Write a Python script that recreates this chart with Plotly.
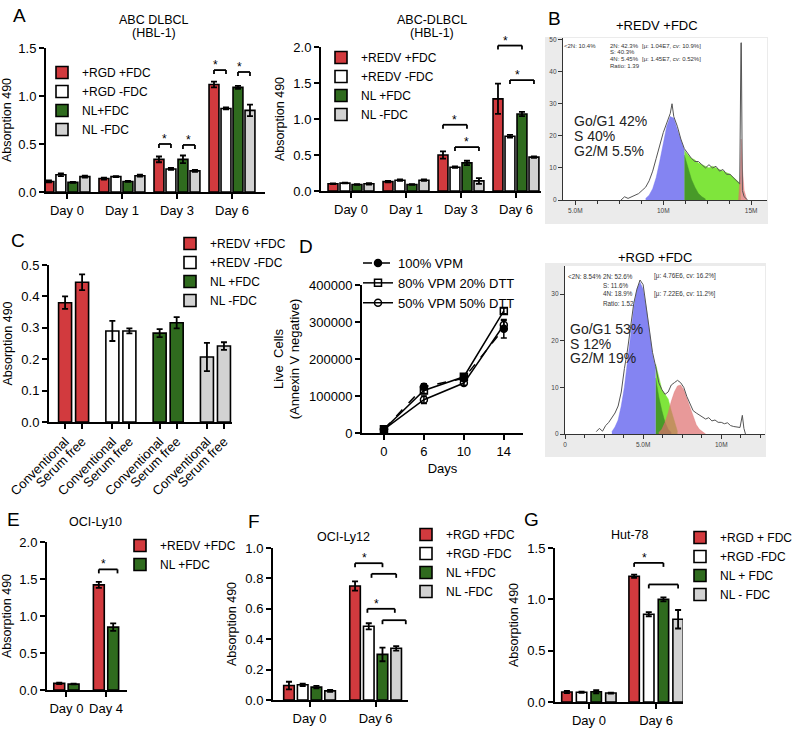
import plotly.graph_objects as go

W, H = 800, 729
FONT = "Arial, Liberation Sans, Helvetica, sans-serif"
RED, WHITE, GREEN, GRAY = "#d23a3e", "#ffffff", "#2f6b1e", "#d2d2d2"
COLORS4 = [RED, WHITE, GREEN, GRAY]

# ---------------- data ----------------
# A (left) ABC DLBCL (HBL-1)
a1_days = ["Day 0", "Day 1", "Day 3", "Day 6"]
a1_names = ["+RGD +FDC", "+RGD -FDC", "NL+FDC", "NL -FDC"]
a1_rgd_fdc = [0.11, 0.14, 0.34, 1.12]
a1_rgd_nofdc = [0.18, 0.16, 0.24, 0.87]
a1_nl_fdc = [0.10, 0.11, 0.34, 1.09]
a1_nl_nofdc = [0.16, 0.17, 0.22, 0.85]
a1_err = [[0.01, 0.01, 0.03, 0.03], [0.015, 0.005, 0.01, 0.01],
          [0.005, 0.005, 0.04, 0.015], [0.01, 0.01, 0.01, 0.06]]

# A (right) ABC-DLBCL (HBL-1)
a2_days = ["Day 0", "Day 1", "Day 3", "Day 6"]
a2_names = ["+REDV +FDC", "+REDV -FDC", "NL +FDC", "NL -FDC"]
a2_redv_fdc = [0.10, 0.13, 0.50, 1.28]
a2_redv_nofdc = [0.11, 0.15, 0.33, 0.76]
a2_nl_fdc = [0.09, 0.09, 0.39, 1.07]
a2_nl_nofdc = [0.10, 0.15, 0.14, 0.47]
a2_err = [[0.005, 0.01, 0.05, 0.21], [0.005, 0.01, 0.01, 0.02],
          [0.005, 0.005, 0.03, 0.03], [0.01, 0.01, 0.04, 0.01]]

# C media comparison
c_groups = ["+REDV +FDC", "+REDV -FDC", "NL +FDC", "NL -FDC"]
c_media = ["Conventional", "Serum free"]
c_vals = [[0.38, 0.445], [0.29, 0.29], [0.283, 0.316], [0.207, 0.242]]
c_errs = [[0.02, 0.025], [0.032, 0.008], [0.013, 0.018], [0.045, 0.012]]

# D live cells
d_days = ["0", "6", "10", "14"]
d_names = ["100% VPM", "80% VPM 20% DTT", "50% VPM 50% DTT"]
d_vpm100 = [10000, 125000, 148000, 282000]
d_vpm80 = [10000, 115000, 152000, 330000]
d_vpm50 = [10000, 90000, 135000, 292000]
d_errs = [[3000, 8000, 5000, 25000], [3000, 8000, 6000, 8000], [3000, 10000, 6000, 12000]]

# E OCI-Ly10
e_days = ["Day 0", "Day 4"]
e_names = ["+REDV +FDC", "NL +FDC"]
e_vals = [[0.09, 1.42], [0.08, 0.85]]
e_errs = [[0.01, 0.04], [0.005, 0.05]]

# F OCI-Ly12
f_days = ["Day 0", "Day 6"]
f_names = ["+RGD +FDC", "+RGD -FDC", "NL +FDC", "NL -FDC"]
f_vals = [[0.095, 0.75], [0.10, 0.485], [0.085, 0.30], [0.06, 0.34]]
f_errs = [[0.025, 0.03], [0.008, 0.02], [0.008, 0.045], [0.006, 0.015]]

# G Hut-78
g_days = ["Day 0", "Day 6"]
g_names = ["+RGD + FDC", "+RGD -FDC", "NL + FDC", "NL - FDC"]
g_vals = [[0.097, 1.225], [0.095, 0.855], [0.10, 1.00], [0.087, 0.806]]
g_errs = [[0.01, 0.015], [0.005, 0.02], [0.015, 0.02], [0.004, 0.09]]

# B (top) cell-cycle histogram +REDV +FDC (x in millions)
b1_raw_x = [7.6, 7.8, 8.0, 8.2, 8.4, 8.6, 8.8, 9.0, 9.2, 9.4, 9.6, 9.8, 10.0, 10.2, 10.4,
            10.5, 10.6, 10.8, 11.0, 11.2, 11.4, 11.6, 11.8, 12.0, 12.2, 12.4, 12.6, 12.8,
            13.0, 13.2, 13.4, 13.6, 13.8, 14.0, 14.2, 14.35, 14.42, 14.44, 14.5, 14.6, 14.8]
b1_raw_y = [0, 1, 0.5, 1, 1.5, 2, 3, 4, 6, 9, 13, 17, 21, 24, 27,
            30, 26, 23, 19, 16, 14.5, 13, 12, 12, 11, 10, 11, 10,
            10.5, 9, 9.5, 8, 8, 7, 6, 5, 49, 49, 3, 1, 0]
b1_g1_x = [9.0, 9.2, 9.4, 9.6, 9.8, 10.0, 10.2, 10.4, 10.6, 10.8, 11.0, 11.2]
b1_g1_y = [0.5, 1.5, 3.5, 7, 12, 18, 23, 26, 25.5, 22, 18.5, 15.5]
b1_s_x = [11.2, 11.4, 11.6, 11.8, 12.0, 12.2, 12.4, 12.6, 12.8, 13.0, 13.2, 13.4, 13.6, 13.8, 14.0, 14.2, 14.4]
b1_s_y = [15.5, 14, 13, 12.5, 11.5, 11, 10.5, 10, 10.5, 10, 9.5, 9, 8.5, 8, 7, 6, 5]
b1_ov_x = [11.2, 11.4, 11.6, 11.8, 12.0, 12.2, 12.4]
b1_ov_y = [14, 10, 6.5, 4, 2, 1, 0.3]
b1_g2_x = [14.28, 14.38, 14.43, 14.5, 14.6, 14.75]
b1_g2_y = [0, 8, 19, 10, 3, 0]

# B (bottom) cell-cycle histogram +RGD +FDC
b2_raw_x = [2.0, 2.2, 2.4, 2.6, 2.8, 3.0, 3.2, 3.4, 3.6, 3.8, 4.0, 4.2, 4.4, 4.6, 4.8, 5.0,
            5.2, 5.4, 5.6, 5.8, 6.0, 6.2, 6.4, 6.6, 6.8, 7.0, 7.2, 7.4, 7.6, 7.8, 8.0, 8.2,
            8.4, 8.6, 8.8, 9.0, 9.2, 9.4, 9.6, 9.8, 10.0, 10.2, 10.4, 10.6, 10.8, 11.0,
            11.2, 11.35, 11.45, 11.55]
b2_raw_y = [0.5, 1.2, 0.6, 1.8, 2.5, 3.5, 4.5, 6, 9, 14, 18, 23, 28, 31, 33, 32,
            27, 22, 17.5, 14.5, 11, 9.5, 8.5, 9, 10.5, 11, 11.5, 11, 10, 8, 6.5, 5,
            4.5, 4, 3.5, 3.2, 3.5, 2.8, 3, 2.5, 2.5, 2.2, 2.4, 1.8, 1.6, 1.5,
            1.4, 4, 1.2, 0]
b2_g1_x = [3.0, 3.2, 3.4, 3.6, 3.8, 4.0, 4.2, 4.4, 4.6, 4.8, 5.0, 5.2, 5.4, 5.6, 5.8]
b2_g1_y = [0.5, 1.5, 3, 6, 10, 15, 21, 27, 31, 32.5, 31, 27, 22, 17, 14]
b2_s_x = [5.8, 6.0, 6.2, 6.4, 6.6, 6.8, 7.0, 7.2]
b2_s_y = [15, 12, 9.5, 8.5, 7.5, 5, 2.5, 0.5]
b2_ov_x = [5.8, 6.0, 6.2, 6.4, 6.6, 6.8]
b2_ov_y = [12, 8, 5, 2.5, 1, 0.3]
b2_g2_x = [6.0, 6.2, 6.4, 6.6, 6.8, 7.0, 7.2, 7.4, 7.6, 7.8, 8.0, 8.2, 8.4, 8.6, 8.8, 9.0]
b2_g2_y = [0.3, 1, 2.5, 4.5, 7, 9, 10.3, 10.5, 9.5, 7.5, 5.5, 3.5, 2, 1, 0.4, 0]

b1_stats = ["&lt;2N: 10.4%", "2N: 42.3%", "[μ: 1.04E7, cv: 10.9%]", "S: 40.3%",
            "4N: 5.45%", "[μ: 1.45E7, cv: 0.52%]", "Ratio: 1.39"]
b2_stats = ["&lt;2N: 8.54%", "2N: 52.6%", "[μ: 4.76E6, cv: 16.2%]", "S: 11.6%",
            "4N: 18.9%", "[μ: 7.22E6, cv: 11.2%]", "Ratio: 1.52"]
b1_phases = ["Go/G1 42%", "S 40%", "G2/M 5.5%"]
b2_phases = ["Go/G1 53%", "S 12%", "G2/M 19%"]

# ---------------- helpers ----------------
fig = go.Figure()
lay = {}
shapes = []
annotations = []


def px2x(px):
    return px / W


def px2y(py):
    return 1 - py / H


def names_of(i):
    s = "" if i == 1 else str(i)
    return "x" + s, "y" + s, "xaxis" + s, "yaxis" + s


def ax_common(size=13):
    return dict(showline=True, linecolor="black", linewidth=2, ticks="outside", ticklen=5,
                tickwidth=1.5, tickcolor="black", showgrid=False, zeroline=False,
                automargin=False,
                tickfont=dict(family=FONT, size=size, color="black"))


def bar_axes(i, xpx, ypx, xrange, yrange, tickvals, ticktext, dtick, tickangle=0):
    xr, yr, xk, yk = names_of(i)
    lay[xk] = dict(ax_common(), domain=[px2x(xpx[0]), px2x(xpx[1])], range=xrange, anchor=yr,
                   tickmode="array", tickvals=tickvals, ticktext=ticktext, tickangle=tickangle)
    lay[yk] = dict(ax_common(), domain=[px2y(ypx[1]), px2y(ypx[0])], range=yrange, anchor=xr,
                   tick0=0, dtick=dtick, tickformat=".1f",
                   title=dict(text="Absorption 490", standoff=6,
                              font=dict(family=FONT, size=12.5, color="black")))


def bar_group(i, legend, names, vals, errs, colors, pitch, width):
    xr, yr, _, _ = names_of(i)
    n = len(names)
    xs = list(range(len(vals[0])))
    for k in range(n):
        fig.add_trace(go.Bar(
            x=xs, y=vals[k], name=names[k], width=width,
            offset=(k - n / 2) * pitch + (pitch - width) / 2,
            marker=dict(color=colors[k], line=dict(color="black", width=1.6)),
            error_y=dict(type="data", array=errs[k], color="black", thickness=1.8, width=3),
            xaxis=xr, yaxis=yr, legend=legend, hoverinfo="skip"))


def brackets(i, xrange, yrange, ypx, specs, pitch, n):
    xr, yr, _, _ = names_of(i)
    fd = 4.0 / (ypx[1] - ypx[0])

    def fx(v):
        return (v - xrange[0]) / (xrange[1] - xrange[0])

    for cat, i0, i1, yv, star in specs:
        x0 = fx(cat + (i0 - (n - 1) / 2) * pitch)
        x1 = fx(cat + (i1 - (n - 1) / 2) * pitch)
        fy = (yv - yrange[0]) / (yrange[1] - yrange[0])
        for a, b, c, d in [(x0, fy - fd, x0, fy), (x0, fy, x1, fy), (x1, fy, x1, fy - fd)]:
            shapes.append(dict(type="line", xref=xr + " domain", yref=yr + " domain",
                               x0=a, y0=b, x1=c, y1=d, line=dict(color="black", width=1.8)))
        if star:
            annotations.append(dict(xref=xr + " domain", yref=yr + " domain", x=(x0 + x1) / 2,
                                    y=fy, text="*", showarrow=False, yanchor="bottom", yshift=-4,
                                    font=dict(family=FONT, size=12, color="black")))


def legend_at(left, top, size=12):
    return dict(x=px2x(left), y=px2y(top), xanchor="left", yanchor="top",
                bgcolor="rgba(0,0,0,0)", borderwidth=0,
                font=dict(family=FONT, size=size, color="black"),
                itemwidth=30, tracegroupgap=0, traceorder="normal")


def text(t, x, y, size=12.5, anchor="center", color="black"):
    annotations.append(dict(xref="paper", yref="paper", x=px2x(x), y=px2y(y), text=t,
                            showarrow=False, xanchor=anchor, yanchor="middle",
                            font=dict(family=FONT, size=size, color=color)))


# ---------------- A left ----------------
A_PITCH, A_W = 0.218, 0.18
a1_vals = [a1_rgd_fdc, a1_rgd_nofdc, a1_nl_fdc, a1_nl_nofdc]
a1_xr, a1_yr, a1_ypx = [-0.38, 3.6], [0, 1.5], (48, 192)
bar_axes(1, (46, 265), a1_ypx, a1_xr, a1_yr, list(range(len(a1_days))), a1_days, 0.5)
bar_group(1, "legend", a1_names, a1_vals, a1_err, COLORS4, A_PITCH, A_W)
brackets(1, a1_xr, a1_yr, a1_ypx,
         [(2, 0, 1, 0.50, True), (2, 2, 3, 0.49, True), (3, 0, 1, 1.27, True), (3, 2, 3, 1.25, True)],
         A_PITCH, 4)
lay["legend"] = legend_at(42, 58)

# ---------------- A right ----------------
a2_vals = [a2_redv_fdc, a2_redv_nofdc, a2_nl_fdc, a2_nl_nofdc]
a2_xr, a2_yr, a2_ypx = [-0.545, 3.455], [0, 2], (47, 191)
bar_axes(2, (321, 541), a2_ypx, a2_xr, a2_yr, list(range(len(a2_days))), a2_days, 0.5)
bar_group(2, "legend2", a2_names, a2_vals, a2_err, COLORS4, A_PITCH, A_W)
brackets(2, a2_xr, a2_yr, a2_ypx,
         [(2, 0, 2, 0.92, True), (2, 1, 3, 0.61, True), (3, 0, 2, 2.02, True), (3, 1, 3, 1.54, True)],
         A_PITCH, 4)
lay["legend2"] = legend_at(321, 43)

# ---------------- C ----------------
C_OFF, C_W = [-0.18, 0.18], 0.275
c_xr = [-0.52, 3.35]
c_tickvals = [g + o for g in range(len(c_groups)) for o in C_OFF]
c_ticktext = [c_media[j] for g in range(len(c_groups)) for j in range(len(C_OFF))]
bar_axes(4, (49, 232), (265, 422), c_xr, [0, 0.5], c_tickvals, c_ticktext, 0.1, tickangle=-45)
for g in range(len(c_groups)):
    fig.add_trace(go.Bar(
        x=[g + o for o in C_OFF], y=c_vals[g], name=c_groups[g], width=C_W,
        marker=dict(color=COLORS4[g], line=dict(color="black", width=1.6)),
        error_y=dict(type="data", array=c_errs[g], color="black", thickness=1.8, width=3),
        xaxis="x4", yaxis="y4", legend="legend3", hoverinfo="skip"))
lay["legend3"] = legend_at(170, 229)

# ---------------- D ----------------
xr, yr, xk, yk = names_of(5)
lay[xk] = dict(ax_common(), domain=[px2x(362), px2x(523)], type="category", range=[-0.55, 3.48],
               anchor=yr, title=dict(text="Days", standoff=6,
                                      font=dict(family=FONT, size=13, color="black")))
lay[yk] = dict(ax_common(), domain=[px2y(433), px2y(285)], range=[0, 400000], anchor=xr,
               tick0=0, dtick=100000, tickformat="d",
               title=dict(text="Live\u00a0 Cells<br>(Annexin V negative)", standoff=6,
                          font=dict(family=FONT, size=13, color="black")))
d_series = [d_vpm100, d_vpm80, d_vpm50]
d_symbols = ["circle", "square-open", "circle-open"]
d_dash = ["dash", "solid", "solid"]
for k in range(3):
    fig.add_trace(go.Scatter(
        x=d_days, y=d_series[k], name=d_names[k], mode="lines+markers",
        line=dict(color="black", width=1.5, dash=d_dash[k]),
        marker=dict(symbol=d_symbols[k], size=7, color="black", line=dict(color="black", width=1.5)),
        error_y=dict(type="data", array=d_errs[k], color="black", thickness=1.5, width=3),
        xaxis=xr, yaxis=yr, legend="legend4", hoverinfo="skip"))
lay["legend4"] = legend_at(358, 248, 13)

# ---------------- E ----------------
E_PITCH, E_W = 0.3625, 0.275
e_xr, e_yr, e_ypx = [-0.49, 1.53], [0, 2], (542, 690)
bar_axes(7, (47, 127), e_ypx, e_xr, e_yr, list(range(len(e_days))), e_days, 0.5)
bar_group(7, "legend5", e_names, e_vals, e_errs, [RED, GREEN], E_PITCH, E_W)
brackets(7, e_xr, e_yr, e_ypx, [(1, 0, 1.3, 1.63, True)], E_PITCH, 2)
lay["legend5"] = legend_at(120, 531)

# ---------------- F ----------------
F_PITCH, F_W = 0.2075, 0.16
f_xr, f_yr, f_ypx = [-0.553, 1.49], [0, 1.0], (548, 700)
bar_axes(8, (273, 408), f_ypx, f_xr, f_yr, list(range(len(f_days))), f_days, 0.2)
bar_group(8, "legend6", f_names, f_vals, f_errs, COLORS4, F_PITCH, F_W)
brackets(8, f_xr, f_yr, f_ypx,
         [(1, 0, 2, 0.90, True), (1, 1.2, 3, 0.83, False), (1, 0.9, 2.9, 0.60, True), (1, 2, 3.7, 0.525, False)],
         F_PITCH, 4)
lay["legend6"] = legend_at(406, 520)

# ---------------- G ----------------
G_PITCH, G_W = 0.218, 0.155
g_xr, g_yr, g_ypx = [-0.504, 1.40], [0, 1.5], (548, 702)
bar_axes(9, (555, 683), g_ypx, g_xr, g_yr, list(range(len(g_days))), g_days, 0.5)
bar_group(9, "legend7", g_names, g_vals, g_errs, COLORS4, G_PITCH, G_W)
brackets(9, g_xr, g_yr, g_ypx, [(1, 0, 2, 1.355, True), (1, 1, 3, 1.145, False)], G_PITCH, 4)
lay["legend7"] = legend_at(680, 523)


# ---------------- B histograms ----------------
def hist_panel(i, xpx, ypx, xrange, yrange, xtv, xtt, ytv, bg, raw, s, ov, g2, g1):
    xr, yr, xk, yk = names_of(i)
    tick = dict(showline=True, linecolor="#333", linewidth=1.2, ticks="outside", ticklen=4,
                tickwidth=1, tickcolor="#333", showgrid=False, zeroline=False, automargin=False,
                tickfont=dict(family=FONT, size=6.5, color="#444"))
    lay[xk] = dict(tick, domain=[px2x(xpx[0]), px2x(xpx[1])], range=xrange, anchor=yr,
                   tickmode="array", tickvals=xtv, ticktext=xtt,
                   minor=dict(ticks="outside", ticklen=3, tickcolor="#333", tickmode="linear",
                              tick0=0, dtick=1.25))
    lay[yk] = dict(tick, domain=[px2y(ypx[1]), px2y(ypx[0])], range=yrange, anchor=xr,
                   tickmode="array", tickvals=ytv)
    shapes.append(dict(type="rect", xref="paper", yref="paper", layer="below",
                       x0=px2x(bg[0]), x1=px2x(bg[1]), y0=px2y(bg[3]), y1=px2y(bg[2]),
                       fillcolor="#ebebeb", line=dict(width=0)))
    shapes.append(dict(type="rect", xref="paper", yref="paper", layer="below",
                       x0=px2x(xpx[0]), x1=px2x(xpx[1]), y0=px2y(ypx[1]), y1=px2y(ypx[0]),
                       fillcolor="white", line=dict(width=0)))
    fills = [(s, "rgba(120,228,50,0.95)"), (ov, "rgba(70,150,40,0.95)"),
             (g2, "rgba(222,110,110,0.7)"), (g1, "rgba(110,110,240,0.85)")]
    for (xx, yy), col in fills:
        fig.add_trace(go.Scatter(x=xx, y=yy, mode="lines", line=dict(width=0.5, color=col),
                                 fill="tozeroy", fillcolor=col, xaxis=xr, yaxis=yr,
                                 showlegend=False, hoverinfo="skip"))
    fig.add_trace(go.Scatter(x=raw[0], y=raw[1], mode="lines", line=dict(width=1, color="#555"),
                             xaxis=xr, yaxis=yr, showlegend=False, hoverinfo="skip"))


hist_panel(3, (563, 767), (38, 200), [4.3, 15.9], [0, 50.5], [5, 10, 15], ["5.0M", "10M", "15M"],
           [0, 10, 20, 30, 40, 50], (545, 768, 37, 224),
           (b1_raw_x, b1_raw_y), (b1_s_x, b1_s_y), (b1_ov_x, b1_ov_y), (b1_g2_x, b1_g2_y),
           (b1_g1_x, b1_g1_y))
hist_panel(6, (565, 765), (266, 434), [0, 12.8], [0, 36], [0, 5, 10], ["0", "5.0M", "10M"],
           [0, 10, 20, 30], (545, 766, 263, 457),
           (b2_raw_x, b2_raw_y), (b2_s_x, b2_s_y), (b2_ov_x, b2_ov_y), (b2_g2_x, b2_g2_y),
           (b2_g1_x, b2_g1_y))

# stats text in histograms
for stats, x_cols, ys, fs in [(b1_stats, (562, 608, 640), (46, 52.5, 59, 65.5), 6),
                              (b2_stats, (566, 601, 652), (276, 285, 294, 303), 6.3)]:
    c1, c2, c3 = x_cols
    pos = [(c1, ys[0]), (c2, ys[0]), (c3, ys[0]), (c2, ys[1]), (c2, ys[2]), (c3, ys[2]), (c2, ys[3])]
    for t, (xx, yy) in zip(stats, pos):
        text(t, xx, yy, size=fs, anchor="left", color="#333")
for phases, x0, ys in [(b1_phases, 572, (121, 136, 151)), (b2_phases, 568, (329, 344, 358))]:
    for t, yy in zip(phases, ys):
        text(t, x0, yy, size=14, anchor="left", color="#222")

# titles & panel letters
text("ABC DLBCL", 154, 20)
text("(HBL-1)", 154, 33)
text("ABC-DLBCL", 432, 20)
text("(HBL-1)", 432, 33)
text("+REDV +FDC", 657, 26, size=13)
text("+RGD +FDC", 655, 257, size=13)
text("OCI-Ly10", 95, 522)
text("OCI-Ly12", 343, 537)
text("Hut-78", 630, 535)
for letter, x, y in [("A", 19, 15), ("B", 554, 19), ("C", 18, 240), ("D", 306, 246),
                     ("E", 13, 519), ("F", 254, 521), ("G", 531, 519)]:
    text(letter, x, y, size=19)

fig.update_layout(
    template="none",
    width=W, height=H, margin=dict(l=0, r=0, t=0, b=0, pad=0), autosize=False,
    paper_bgcolor="white", plot_bgcolor="white", barmode="overlay",
    font=dict(family=FONT, color="black"), showlegend=True,
    shapes=shapes, annotations=annotations, **lay)

fig.write_html("out.html", config={"displayModeBar": False},
               post_script="document.body.style.margin='0px';document.body.style.overflow='hidden';")
